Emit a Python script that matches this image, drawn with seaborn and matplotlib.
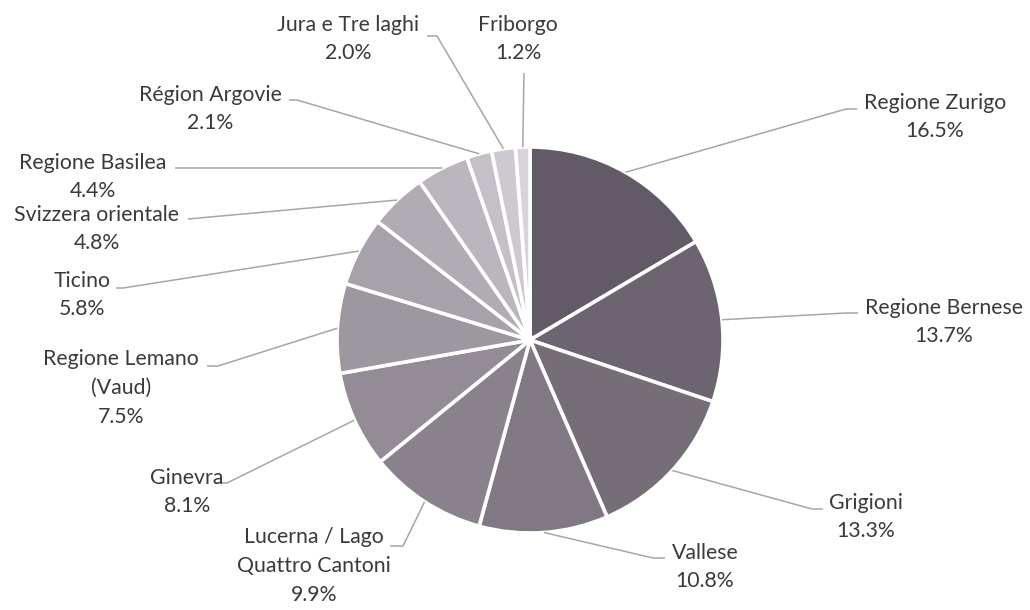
import numpy as np
import seaborn as sns
import matplotlib.pyplot as plt

regions = ["Regione Zurigo", "Regione Bernese", "Grigioni", "Vallese",
           "Lucerna / Lago\nQuattro Cantoni", "Ginevra", "Regione Lemano\n(Vaud)",
           "Ticino", "Svizzera orientale", "Regione Basilea", "Région Argovie",
           "Jura e Tre laghi", "Friborgo"]
shares = [16.5, 13.7, 13.3, 10.8, 9.9, 8.1, 7.5, 5.8, 4.8, 4.4, 2.1, 2.0, 1.2]

# label layout in pixels from top-left: text centre, elbow, tick end
label_pos = [(935, 117), (944, 322), (866, 517), (705, 567), (314, 566), (187, 492),
             (121, 388), (82, 295), (97, 229), (93, 177), (210, 109), (348, 39), (518, 39)]
elbows = [(846, 109), (846, 313), (812, 509), (653, 558), (403, 546), (227, 483),
          (218, 366), (123, 288), (188, 219), (175, 168), (297, 100), (437, 36), (524, 73)]
ticks = [(857, 109), (858, 313), (823, 509), (665, 558), (390, 546), (215, 483),
         (207, 366), (116, 288), (188, 219), (175, 168), (289, 100), (427, 36), (524, 73)]

W, H = 1030, 610
cx, cy, r = 530, 340, 193

sns.set_theme(style="white")
plt.rcParams['font.family'] = ['Lato', 'DejaVu Sans']

fig = plt.figure(figsize=(10.3, 6.1), dpi=100)
ax = fig.add_axes([0, 0, 1, 1])

colors = sns.blend_palette(["#625a66", "#d8d3da"], len(shares))
wedges, _ = ax.pie(shares, colors=colors, startangle=90, counterclock=False,
                   center=(cx, H - cy), radius=r,
                   wedgeprops=dict(edgecolor='white', linewidth=2.6))
ax.set_xlim(0, W)
ax.set_ylim(0, H)
ax.set_aspect('equal')
ax.axis('off')

line_col = "#a6a6a6"
text_col = "#3a3a3a"
for w, name, val, (tx, ty), (ex, ey), (kx, ky) in zip(wedges, regions, shares, label_pos, elbows, ticks):
    mid = np.deg2rad((w.theta1 + w.theta2) / 2)
    px = cx + r * np.cos(mid)
    py = (H - cy) + r * np.sin(mid)
    ax.plot([px, ex, kx], [py, H - ey, H - ky], color=line_col, lw=1.1, solid_capstyle='butt')
    ax.text(tx, H - ty, f"{name}\n{val:.1f}%", ha='center', va='center',
            multialignment='center', fontsize=15.3, color=text_col, linespacing=1.55)

fig.savefig("out.png", dpi=100)
